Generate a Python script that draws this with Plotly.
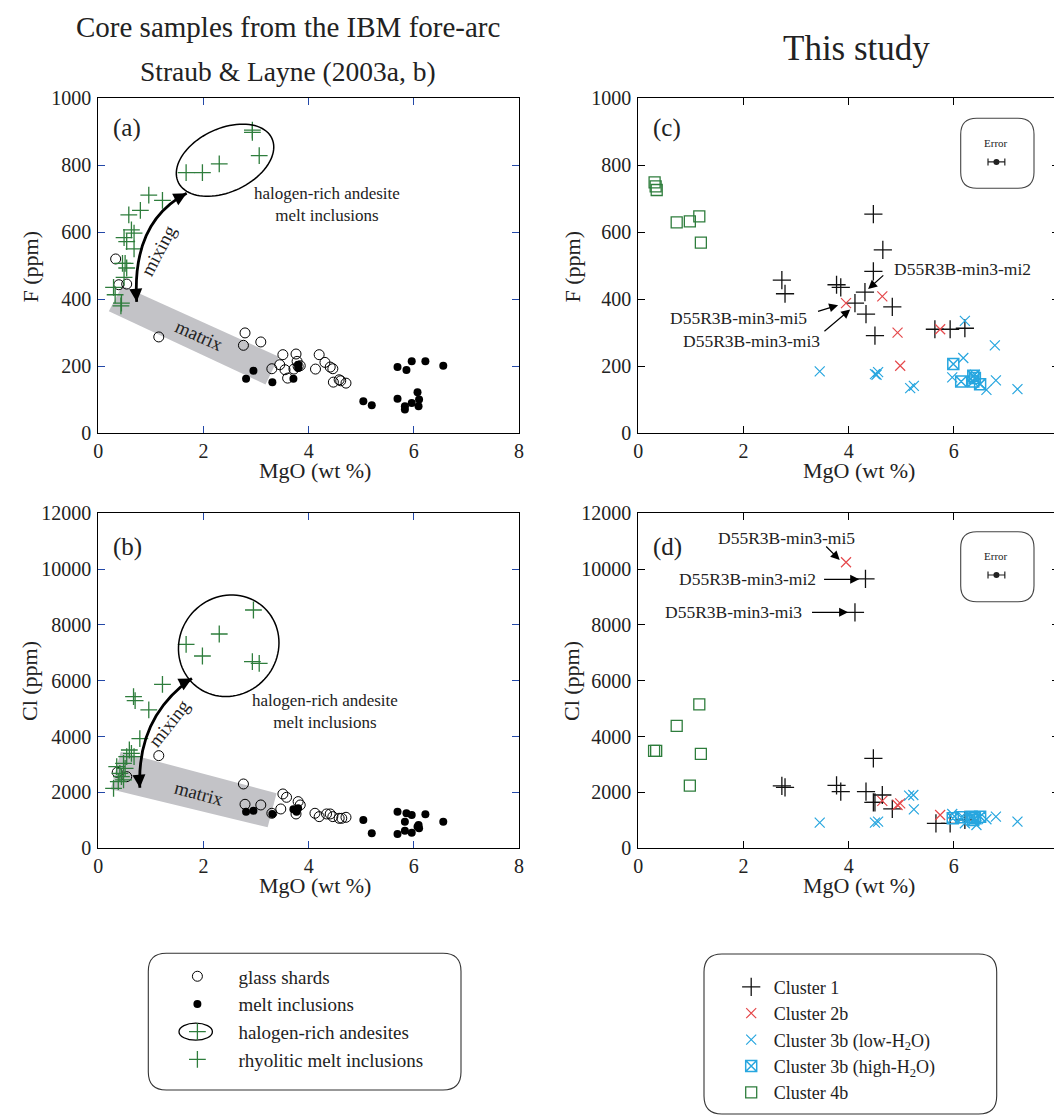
import numpy as np
import plotly.graph_objects as go

W, H = 1062, 1116
OFF = 8  # page body margin of the html output
FONT = "Liberation Serif"
TXT = "#222222"
GREEN = "#2e7d3c"
RED = "#e5484b"
CYAN = "#27a6df"
BLUE_TICK = "#2348a8"
BAND = "#c3c3c7"

# ---------------- data: panel (a) F vs MgO (Straub & Layne) ----------------
a_glass_mgo = [0.33, 0.39, 0.54, 1.15, 2.79, 2.76, 3.09, 3.51, 3.76, 3.45, 3.30, 3.55, 3.60, 3.72, 3.78,
               3.84, 4.20, 4.31, 4.41, 4.46, 4.13, 4.47, 4.58, 4.61, 4.71, 3.80]
a_glass_f = [520, 443, 445, 287, 299, 262, 272, 234, 236, 204, 192, 189, 164, 191, 214,
             201, 234, 211, 197, 192, 191, 152, 159, 156, 149, 199]
a_mi_mgo = [2.81, 2.95, 3.31, 3.71, 3.80, 3.80, 5.69, 5.86, 5.96, 6.22, 6.56, 5.04, 5.20, 5.69, 6.07,
            6.10, 5.96, 6.09, 5.83, 5.83]
a_mi_f = [162, 186, 152, 162, 194, 204, 197, 188, 214, 214, 201, 95, 83, 102, 122,
          100, 90, 80, 80, 70]
a_hal_mgo = [2.93, 2.93, 3.06, 2.30, 1.98, 1.67]
a_hal_f = [905, 898, 829, 804, 778, 778]
a_rhy_mgo = [0.96, 1.22, 0.80, 0.58, 0.63, 0.68, 0.49, 0.54, 0.68, 0.46, 0.51, 0.54, 0.49, 0.29, 0.32,
             0.44, 0.43]
a_rhy_f = [711, 695, 665, 652, 607, 597, 584, 572, 550, 507, 507, 493, 465, 435, 413, 388, 380]

# ---------------- data: panel (b) Cl vs MgO (Straub & Layne) ----------------
b_glass_mgo = [1.15, 0.36, 0.54, 2.76, 2.79, 3.09, 3.51, 3.58, 3.47, 3.30, 3.76, 3.80, 3.84, 4.12,
               4.20, 4.34, 4.41, 4.46, 4.58, 4.63, 4.71]
b_glass_cl = [3319, 2722, 2567, 2304, 1576, 1552, 1946, 1827, 1409, 1254, 1230, 1672, 1552, 1254,
              1134, 1230, 1230, 1134, 1075, 1075, 1110]
b_mi_mgo = [2.81, 2.95, 3.31, 3.71, 3.80, 3.77, 5.04, 5.20, 5.69, 5.86, 5.96, 6.22, 6.56, 5.83,
            5.83, 5.96, 5.69, 6.09, 6.10, 6.07]
b_mi_cl = [1313, 1349, 1230, 1397, 1433, 1313, 1015, 537, 1313, 1254, 1194, 1218, 955, 955,
           633, 561, 513, 836, 716, 776]
b_hal_mgo = [2.95, 2.30, 1.67, 1.98, 2.93, 3.06]
b_hal_cl = [8537, 7677, 7307, 6889, 6686, 6627]
b_rhy_mgo = [1.22, 0.67, 0.70, 0.96, 0.79, 0.59, 0.63, 0.54, 0.68, 0.48, 0.35, 0.51, 0.41, 0.44,
             0.38, 0.29, 0.48]
b_rhy_cl = [5874, 5433, 5289, 4955, 3928, 3522, 3403, 3284, 3284, 3045, 2925, 2866, 2687, 2567,
            2388, 2149, 2448]

# ---------------- data: panel (c) F vs MgO (this study) ----------------
c_c1_mgo = [4.47, 4.65, 4.47, 4.31, 4.12, 4.33, 4.83, 4.50, 2.73, 2.79, 3.77, 3.85, 5.64, 5.93, 6.21]
c_c1_f = [654, 547, 483, 421, 388, 355, 377, 291, 457, 416, 443, 435, 310, 310, 313]
c_c2_mgo = [3.95, 4.64, 4.93, 4.98, 5.74]
c_c2_f = [388, 408, 300, 201, 310]
c_c3l_mgo = [3.45, 4.50, 4.56, 4.53, 5.17, 5.24, 6.21, 6.78, 6.18, 5.97, 6.80, 6.62, 7.21, 6.40]
c_c3l_f = [184, 176, 182, 174, 134, 141, 335, 262, 224, 166, 157, 129, 131, 174]
c_c3h_mgo = [5.99, 6.14, 6.37, 6.37, 6.50, 6.40]
c_c3h_f = [206, 154, 171, 154, 146, 164]
c_c4_mgo = [0.31, 0.33, 0.35, 0.73, 0.98, 1.16, 1.19]
c_c4_f = [749, 737, 726, 629, 632, 647, 569]

# ---------------- data: panel (d) Cl vs MgO (this study) ----------------
d_c1_mgo = [4.32, 4.12, 4.47, 2.73, 2.79, 3.77, 3.85, 4.33, 4.64, 4.47, 4.50, 4.83, 5.66, 5.93, 6.21]
d_c1_cl = [9648, 8454, 3224, 2233, 2185, 2257, 2030, 2030, 1910, 1648, 1648, 1409, 896, 896, 1015]
d_c2_mgo = [3.95, 4.64, 4.93, 4.98, 5.74]
d_c2_cl = [10245, 1696, 1552, 1612, 1194]
d_c3l_mgo = [3.45, 4.50, 4.56, 5.15, 5.23, 5.24, 5.97, 6.21, 6.43, 6.62, 6.80, 7.21, 6.18]
d_c3l_cl = [919, 919, 955, 1887, 1910, 1397, 1230, 896, 836, 1039, 1134, 955, 1110]
d_c3h_mgo = [5.98, 6.14, 6.34, 6.37, 6.50, 6.40]
d_c3h_cl = [1075, 1110, 1134, 1015, 1134, 1075]
d_c4_mgo = [1.16, 0.73, 0.34, 0.30, 1.19, 0.98]
d_c4_cl = [5158, 4382, 3487, 3487, 3379, 2245]

# analytical error (typical) shown in the insets
err_mgo = [6.81]
err_f = [810]
err_cl = [9789]
err_dx = [0.16]

x_ticks = [0, 2, 4, 6, 8]
f_ticks = [0, 200, 400, 600, 800, 1000]
cl_ticks = [0, 2000, 4000, 6000, 8000, 10000, 12000]

# ---------------- layout geometry (screen pixels) ----------------
PXL = (98.3, 519.0)
PXR = (638.3, 1059.0)
PYT = (98.3, 433.0)
PYB = (513.3, 848.3)


def PX(px):
    return (px - OFF) / W


def PY(py):
    return 1 - (py - OFF) / H


def xdom(p):
    return [PX(p[0]), PX(p[1])]


def ydom(p):
    return [PY(p[1]), PY(p[0])]


SX = (PXL[1] - PXL[0]) / 8.0           # px per wt% MgO
SY_F = (PYT[1] - PYT[0]) / 1000.0      # px per ppm F
SY_CL = (PYB[1] - PYB[0]) / 12000.0    # px per ppm Cl


def ellipse_path(cx, cy, a_px, b_px, ang, sy):
    th = np.radians(ang)
    t = np.linspace(0, 2 * np.pi, 90)
    dx = a_px * np.cos(t) * np.cos(th) - b_px * np.sin(t) * np.sin(th)
    dy = a_px * np.cos(t) * np.sin(th) + b_px * np.sin(t) * np.cos(th)
    xs = cx + dx / SX
    ys = cy + dy / sy
    pts = [f"{x:.4f},{y:.3f}" for x, y in zip(xs, ys)]
    return "M " + " L ".join(pts) + " Z"


def rrect(x0, y0, x1, y1, r):
    return (f"M {PX(x0 + r)},{PY(y0)} L {PX(x1 - r)},{PY(y0)} Q {PX(x1)},{PY(y0)} {PX(x1)},{PY(y0 + r)} "
            f"L {PX(x1)},{PY(y1 - r)} Q {PX(x1)},{PY(y1)} {PX(x1 - r)},{PY(y1)} "
            f"L {PX(x0 + r)},{PY(y1)} Q {PX(x0)},{PY(y1)} {PX(x0)},{PY(y1 - r)} "
            f"L {PX(x0)},{PY(y0 + r)} Q {PX(x0)},{PY(y0)} {PX(x0 + r)},{PY(y0)} Z")


fig = go.Figure()

def add(x, y, name, sym, size, color, xa, ya, legend, show, lw=1.2, group=None):
    fig.add_trace(go.Scatter(
        x=x, y=y, mode="markers", name=name, xaxis=xa, yaxis=ya,
        legend=legend, showlegend=show, legendgroup=group or name,
        marker=dict(symbol=sym, size=size, color=color, line=dict(width=lw, color=color)),
        hoverinfo="x+y+name"))

# panel (a)
add(a_glass_mgo, a_glass_f, "glass shards", "circle-open", 10, "black", "x", "y", "legend", True, 1.0)
add(a_mi_mgo, a_mi_f, "melt inclusions", "circle", 8, "black", "x", "y", "legend", True, 0)
add(a_hal_mgo, a_hal_f, "halogen-rich andesites", "cross-thin-open", 12, GREEN, "x", "y", "legend", True, 1.3)
add(a_rhy_mgo, a_rhy_f, "rhyolitic melt inclusions", "cross-thin-open", 12, GREEN, "x", "y", "legend", True, 1.3)
# panel (b)
add(b_glass_mgo, b_glass_cl, "glass shards", "circle-open", 10, "black", "x3", "y3", "legend", False, 1.0)
add(b_mi_mgo, b_mi_cl, "melt inclusions", "circle", 8, "black", "x3", "y3", "legend", False, 0)
add(b_hal_mgo, b_hal_cl, "halogen-rich andesites", "cross-thin-open", 12, GREEN, "x3", "y3", "legend", False, 1.3)
add(b_rhy_mgo, b_rhy_cl, "rhyolitic melt inclusions", "cross-thin-open", 12, GREEN, "x3", "y3", "legend", False, 1.3)
# panel (c)
add(c_c1_mgo, c_c1_f, "Cluster 1", "cross-thin-open", 13, "#111111", "x2", "y2", "legend2", True, 1.3)
add(c_c2_mgo, c_c2_f, "Cluster 2b", "x-thin-open", 10, RED, "x2", "y2", "legend2", True, 1.2)
add(c_c3l_mgo, c_c3l_f, "Cluster 3b (low-H<sub>2</sub>O)", "x-thin-open", 10, CYAN, "x2", "y2", "legend2", True, 1.2)
add(c_c3h_mgo, c_c3h_f, "Cluster 3b (high-H<sub>2</sub>O)", "square-x-open", 11, CYAN, "x2", "y2", "legend2", True, 1.5)
add(c_c4_mgo, c_c4_f, "Cluster 4b", "square-open", 11, GREEN, "x2", "y2", "legend2", True, 1.3)
# panel (d)
add(d_c1_mgo, d_c1_cl, "Cluster 1", "cross-thin-open", 13, "#111111", "x4", "y4", "legend2", False, 1.3)
add(d_c2_mgo, d_c2_cl, "Cluster 2b", "x-thin-open", 10, RED, "x4", "y4", "legend2", False, 1.2)
add(d_c3l_mgo, d_c3l_cl, "Cluster 3b (low-H<sub>2</sub>O)", "x-thin-open", 10, CYAN, "x4", "y4", "legend2", False, 1.2)
add(d_c3h_mgo, d_c3h_cl, "Cluster 3b (high-H<sub>2</sub>O)", "square-x-open", 11, CYAN, "x4", "y4", "legend2", False, 1.5)
add(d_c4_mgo, d_c4_cl, "Cluster 4b", "square-open", 11, GREEN, "x4", "y4", "legend2", False, 1.3)

# error insets
for ya, ey in (("y2", err_f), ("y4", err_cl)):
    fig.add_trace(go.Scatter(
        x=err_mgo, y=ey, mode="markers", xaxis="x2" if ya == "y2" else "x4", yaxis=ya, showlegend=False,
        marker=dict(symbol="circle", size=6, color="#222222"),
        error_x=dict(type="data", array=err_dx, visible=True, color="#222222", thickness=1.2, width=3.5),
        hoverinfo="skip"))

# ---------------- axes ----------------
axis_common = dict(showgrid=False, zeroline=False, showline=True, linecolor="black", linewidth=1.3,
                   mirror="ticks", ticks="inside", ticklen=7, tickwidth=1.2, automargin=False,
                   tickfont=dict(family=FONT, size=20, color=TXT))

layout_axes = {}
for key, dom, col in (("xaxis", PXL, BLUE_TICK), ("xaxis3", PXL, BLUE_TICK),
                      ("xaxis2", PXR, "black"), ("xaxis4", PXR, "black")):
    anchor = {"xaxis": "y", "xaxis2": "y2", "xaxis3": "y3", "xaxis4": "y4"}[key]
    layout_axes[key] = dict(axis_common, domain=xdom(dom), anchor=anchor, tickcolor=col,
                            range=[0, 8], tickvals=x_ticks, ticklabelstandoff=0,
                            ticklabeloverflow="allow")
for key, dom, col, rng, tv in (("yaxis", PYT, BLUE_TICK, [0, 1000], f_ticks),
                               ("yaxis2", PYT, "black", [0, 1000], f_ticks),
                               ("yaxis3", PYB, BLUE_TICK, [0, 12000], cl_ticks),
                               ("yaxis4", PYB, "black", [0, 12000], cl_ticks)):
    anchor = {"yaxis": "x", "yaxis2": "x2", "yaxis3": "x3", "yaxis4": "x4"}[key]
    layout_axes[key] = dict(axis_common, domain=ydom(dom), anchor=anchor, tickcolor=col, range=rng,
                            tickvals=tv, tickformat="d", ticklabelstandoff=2)

# ---------------- shapes ----------------
shapes = []
# matrix bands
shapes.append(dict(type="path", xref="x", yref="y", layer="below", line=dict(width=0), fillcolor=BAND,
                   path="M 0.456,440 L 3.435,228 L 3.18,145 L 0.20,364 Z"))
shapes.append(dict(type="path", xref="x3", yref="y3", layer="below", line=dict(width=0), fillcolor=BAND,
                   path="M 0.426,3460 L 3.39,1970 L 3.22,752 L 0.236,2113 Z"))
# halogen-rich ellipses
shapes.append(dict(type="path", xref="x", yref="y", line=dict(color="black", width=1.5),
                   path=ellipse_path(2.41, 815, 51.7, 31.7, 25, SY_F)))
shapes.append(dict(type="path", xref="x3", yref="y3", line=dict(color="black", width=1.5),
                   path=ellipse_path(2.48, 7256, 52, 49, 50, SY_CL)))
# mixing curves
shapes.append(dict(type="path", xref="x", yref="y", line=dict(color="black", width=2.8),
                   path="M 0.73,392 Q 0.635,631 1.68,716"))
shapes.append(dict(type="path", xref="x3", yref="y3", line=dict(color="black", width=2.8),
                   path="M 0.79,2170 Q 0.73,4713 1.78,6086"))
# error inset boxes
shapes.append(dict(type="path", xref="paper", yref="paper", line=dict(color="#444", width=1.1),
                   path=rrect(960.7, 118.3, 1034, 188.3, 16)))
shapes.append(dict(type="path", xref="paper", yref="paper", line=dict(color="#444", width=1.1),
                   path=rrect(960.7, 531.7, 1034, 601.7, 16)))
# legend boxes
shapes.append(dict(type="path", xref="paper", yref="paper", line=dict(color="#333", width=1.1),
                   path=rrect(148.3, 953.3, 461, 1090, 18)))
shapes.append(dict(type="path", xref="paper", yref="paper", line=dict(color="#333", width=1.1),
                   path=rrect(704, 954, 996.7, 1114, 18)))
# ellipse around halogen-rich legend symbol
shapes.append(dict(type="circle", xref="paper", yref="paper", line=dict(color="black", width=1.3),
                   x0=PX(179), x1=PX(212.4), y0=PY(1040.2), y1=PY(1023.2)))

# ---------------- annotations ----------------
ann = []
def text(x, y, s, size, xref="paper", yref="paper", xanchor="center", yanchor="middle", angle=0, color=TXT):
    ann.append(dict(x=x, y=y, xref=xref, yref=yref, text=s, showarrow=False, xanchor=xanchor,
                    yanchor=yanchor, textangle=angle, font=dict(family=FONT, size=size, color=color)))

text(PX(288), PY(27), "Core samples from the IBM fore-arc", 29)
text(PX(288), PY(72), "Straub &amp; Layne (2003a, b)", 27.5)
text(PX(856), PY(48), "This study", 35)

# axis titles
text(PX(314.7), PY(470.5), "MgO (wt %)", 22)
text(PX(859), PY(470.5), "MgO (wt %)", 22)
text(PX(314.7), PY(885.5), "MgO (wt %)", 22)
text(PX(859), PY(885.5), "MgO (wt %)", 22)
text(PX(30), PY(266.5), "F (ppm)", 22, angle=-90)
text(PX(572), PY(266.5), "F (ppm)", 22, angle=-90)
text(PX(30), PY(681), "Cl (ppm)", 22, angle=-90)
text(PX(572), PY(681), "Cl (ppm)", 22, angle=-90)

text(0.25, 910, "(a)", 25, "x", "y", "left")
text(0.24, 10800, "(b)", 25, "x3", "y3", "left")
text(0.25, 910, "(c)", 25, "x2", "y2", "left")
text(0.24, 10800, "(d)", 25, "x4", "y4", "left")

text(2.93, 683, "halogen-rich andesite<br>melt inclusions", 17, "x", "y", "left")
text(2.88, 4900, "halogen-rich andesite<br>melt inclusions", 17, "x3", "y3", "left")
text(1.14, 546, "mixing", 19, "x", "y", angle=-62)
text(1.34, 4477, "mixing", 19, "x3", "y3", angle=-52)
text(1.92, 290, "matrix", 19, "x", "y", angle=24)
text(1.92, 1970, "matrix", 19, "x3", "y3", angle=15)

text(6.81, 865, "Error", 11, "x2", "y2")
text(6.81, 10469, "Error", 11, "x4", "y4")

text(4.82, 490, "D55R3B-min3-mi2", 17.5, "x2", "y2", "left")
text(3.245, 344, "D55R3B-min3-mi5", 17.5, "x2", "y2", "right")
text(3.49, 276, "D55R3B-min3-mi3", 17.5, "x2", "y2", "right")
text(1.48, 11125, "D55R3B-min3-mi5", 17.5, "x4", "y4", "left")
text(3.41, 9635, "D55R3B-min3-mi2", 17.5, "x4", "y4", "right")
text(3.15, 8474, "D55R3B-min3-mi3", 17.5, "x4", "y4", "right")

def arrow(x, y, ax, ay, xref, yref, size=1.5, width=1.2, head=2):
    ann.append(dict(x=x, y=y, ax=ax, ay=ay, xref=xref, yref=yref, text="", showarrow=True,
                    arrowhead=head, arrowsize=size, arrowwidth=width, arrowcolor="black", standoff=0))

arrow(4.37, 430, 16.7, -15, "x2", "y2")
arrow(3.80, 382, -21.6, 6.7, "x2", "y2")
arrow(4.03, 369, -27.3, 23, "x2", "y2")
arrow(3.83, 10326, -15, -15, "x4", "y4")
arrow(4.20, 9635, -36.6, 0, "x4", "y4")
arrow(3.99, 8453, -37.6, 0, "x4", "y4")
# mixing arrow heads
arrow(0.73, 392, -1, -14, "x", "y", 1.0, 2.6)
arrow(1.68, 716, -13, 7, "x", "y", 1.0, 2.6)
arrow(0.79, 2170, -1, -14, "x3", "y3", 1.0, 2.6)
arrow(1.78, 6086, -13, 7, "x3", "y3", 1.0, 2.6)

fig.update_layout(
    width=W, height=H, margin=dict(l=0, r=0, t=0, b=0, autoexpand=False),
    paper_bgcolor="white", plot_bgcolor="white",
    font=dict(family=FONT, color=TXT),
    shapes=shapes, annotations=ann,
    legend=dict(x=PX(156.4), y=PY(957.4), xanchor="left", yanchor="top", bgcolor="rgba(0,0,0,0)",
                borderwidth=0, itemwidth=72, tracegroupgap=0,
                font=dict(family=FONT, size=19, color=TXT)),
    legend2=dict(x=PX(728.7), y=PY(968.6), xanchor="left", yanchor="top", bgcolor="rgba(0,0,0,0)",
                 borderwidth=0, itemwidth=35, tracegroupgap=0,
                 font=dict(family=FONT, size=18, color=TXT)),
    **layout_axes,
)

fig.write_html("out.html")
